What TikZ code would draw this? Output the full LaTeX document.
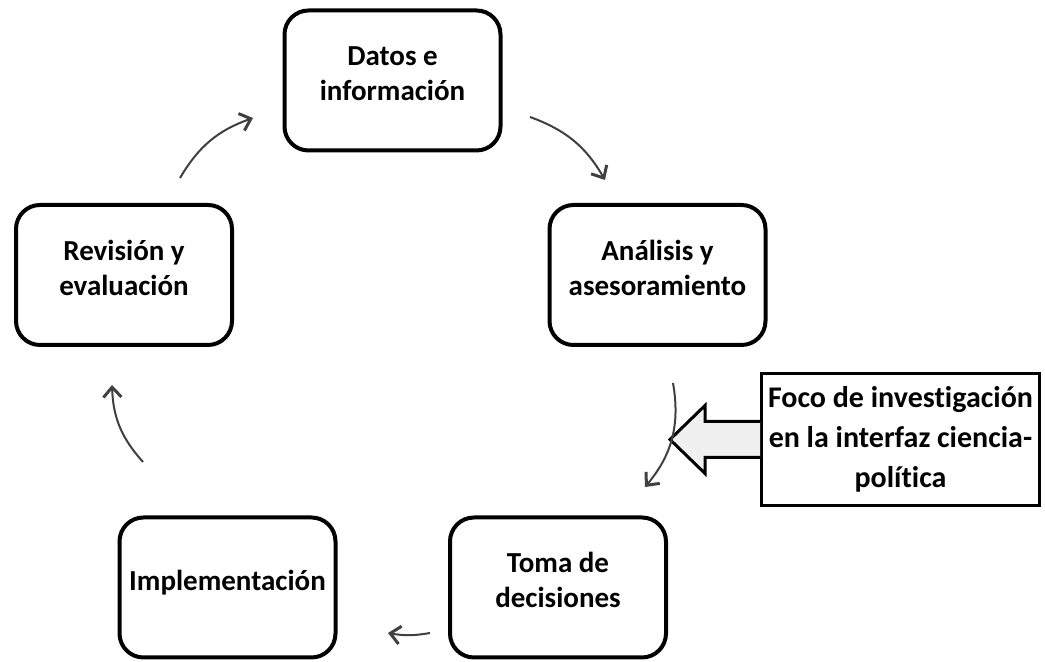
\documentclass[tikz,border=0pt]{standalone}
\usepackage{fontspec}
\setmainfont{Carlito}[Ligatures=NoCommon]
\usetikzlibrary{arrows.meta}
\newcommand{\pasotxt}[1]{\raisebox{-1.5pt}[0pt][0pt]{\begin{tabular}{@{}c@{}}#1\end{tabular}}}
\begin{document}
\begin{tikzpicture}[x=0.5pt,y=0.5pt,
    paso/.style={draw,line width=2pt,rounded corners=12pt,fill=white,
      minimum width=108pt,minimum height=70pt,inner sep=0pt,
      font=\fontsize{14.5}{17.5}\selectfont\bfseries},
    ciclo/.style={draw=black!75,line width=1pt,bend left=20,
      -{Straight Barb[length=5pt,width=9pt,line width=1.5pt]}}]
  \useasboundingbox (0,0) rectangle (1045,662);
  \node[paso] (datos) at (392.5,581.5) {\pasotxt{Datos e\\información}};
  \node[paso] (analisis) at (657.5,387) {\pasotxt{Análisis y\\asesoramiento}};
  \node[paso] (toma) at (558,74.5) {\pasotxt{Toma de\\decisiones}};
  \node[paso] (impl) at (227.5,74.5) {\pasotxt{Implementación}};
  \node[paso] (revision) at (124,387) {\pasotxt{Revisión y\\evaluación}};
  \node[draw,line width=1.5pt,fill=white,align=center,minimum width=139pt,minimum height=66pt,
    inner sep=0pt,font=\fontsize{15}{20}\selectfont\bfseries] (foco) at (900.5,222.5)
    {Foco de investigación\\en la interfaz ciencia-\\política};
  \filldraw[fill=black!6,line width=1.5pt,line join=miter]
    ([yshift=9pt]foco.west) -- ++(-27.5pt,0) -- ++(0,8pt) -- ++(-17.5pt,-17pt)
    -- ++(17.5pt,-17pt) -- ++(0,8pt) -- ([yshift=-9pt]foco.west);
  \coordinate (c1) at (180,484);
  \coordinate (c2) at (253,544);
  \coordinate (c3) at (530,545);
  \coordinate (c4) at (605,482);
  \coordinate (c5) at (673,279);
  \coordinate (c6) at (645,175);
  \coordinate (c7) at (430,29);
  \coordinate (c8) at (388,29);
  \coordinate (c9) at (143,200);
  \coordinate (c10) at (112,277);
  \draw[ciclo] (c1) to (c2);
  \draw[ciclo] (c3) to (c4);
  \draw[ciclo,bend left=25] (c5) to (c6);
  \draw[ciclo,bend left=10] (c7) to (c8);
  \draw[ciclo] (c9) to (c10);
\end{tikzpicture}
\end{document}
